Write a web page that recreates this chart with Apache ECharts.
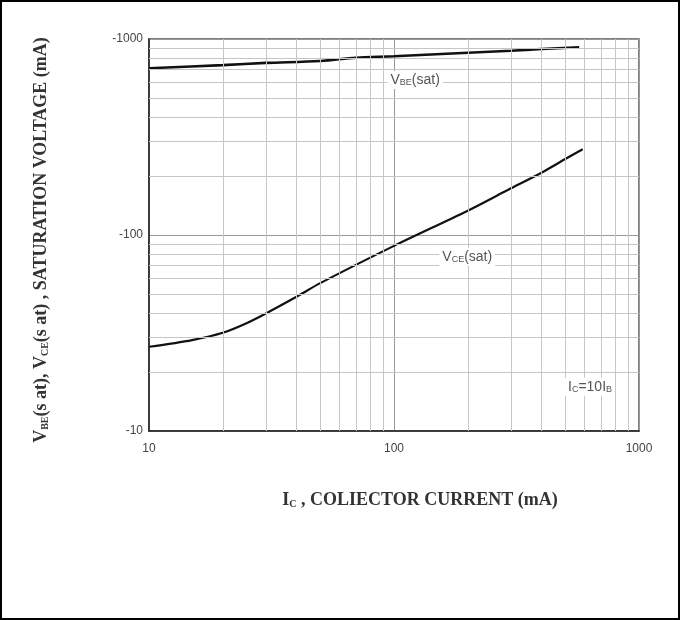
<!DOCTYPE html>
<html>
<head>
<meta charset="utf-8">
<script src="https://cdn.jsdelivr.net/npm/echarts@6/dist/echarts.min.js"></script>
<style>
  html, body { margin: 0; padding: 0; background: #fff; }
  #chart { width: 680px; height: 620px; box-sizing: border-box; border: 2px solid #000; }
</style>
</head>
<body>
<div id="chart"></div>
<script>
// axis ticks (log decades) and the minor grid values
const xTicks = [10, 100, 1000];
const yTicks = [-10, -100, -1000];
const minorTicks = [20, 30, 40, 50, 60, 70, 80, 90, 200, 300, 400, 500, 600, 700, 800, 900];

// V_BE(sat) curve
const icVbe = [10, 20, 30, 50, 70, 100, 200, 300, 400, 570];
const vbeSat = [-709, -736, -755, -772, -803, -816, -851, -871, -889, -907];

// V_CE(sat) curve
const icVce = [10, 15, 20, 25, 30, 40, 50, 100, 200, 300, 400, 500, 589];
const vceSat = [-26.9, -29.1, -31.7, -35.5, -39.8, -48.4, -56.8, -88, -133, -173, -208, -244, -274];

// plotted on log axes by magnitude, labelled negative
const toPoints = (xs, ys) => xs.map((x, i) => [x, Math.abs(ys[i])]);

const chart = echarts.init(document.getElementById("chart"));

const gridLine = { color: "#c6c6c6", width: 1, type: "solid" };
const noteStyle = {
  t: { fontFamily: "Liberation Sans, Arial", fontSize: 14, color: "#555" },
  s: { fontFamily: "Liberation Sans, Arial", fontSize: 9, color: "#555", verticalAlign: "bottom", padding: [5, 0, 0, 0] },
};
const titleRich = {
  b: { fontFamily: "Liberation Serif, Times New Roman", fontWeight: "bold", fontSize: 18, color: "#333" },
  s: { fontFamily: "Liberation Serif, Times New Roman", fontWeight: "bold", fontSize: 10, color: "#333", verticalAlign: "bottom", padding: [6, 0, 0, 0] },
};

chart.setOption({
  animation: false,
  grid: {
    left: 147,
    right: 39,
    top: 37,
    bottom: 187,
    containLabel: false,
    outerBoundsMode: "none",
    show: true,
    borderColor: "#555",
    borderWidth: 1.5,
  },
  xAxis: {
    type: "log",
    logBase: 10,
    min: xTicks[0],
    max: xTicks[xTicks.length - 1],
    axisLine: { show: true, lineStyle: { color: "#222", width: 1.5 } },
    axisTick: { show: false },
    axisLabel: {
      margin: 12,
      fontFamily: "Liberation Sans, Arial",
      fontSize: 12,
      color: "#444",
      formatter: (v) => String(v),
    },
    splitLine: { show: true, lineStyle: { color: "#999", width: 1 } },
    name: "{b|I}{s|C}{b| , COLIECTOR CURRENT (mA)}",
    nameLocation: "middle",
    nameGap: 60,
    nameTextStyle: {
      padding: [0, 0, 0, 52],
      rich: titleRich,
    },
  },
  yAxis: {
    type: "log",
    logBase: 10,
    min: Math.abs(yTicks[0]),
    max: Math.abs(yTicks[yTicks.length - 1]),
    axisLine: { show: true, lineStyle: { color: "#222", width: 1.5 } },
    axisTick: { show: false },
    axisLabel: {
      margin: 6,
      fontFamily: "Liberation Sans, Arial",
      fontSize: 12,
      color: "#444",
      formatter: (v) => "-" + v,
    },
    splitLine: { show: true, lineStyle: { color: "#999", width: 1 } },
    name: "{b|V}{s|BE}{b|(s at), V}{s|CE}{b|(s at) , SATURATION VOLTAGE (mA)}",
    nameLocation: "middle",
    nameRotate: 90,
    nameGap: 99,
    nameTextStyle: {
      padding: [0, 10, 0, 0],
      rich: titleRich,
    },
  },
  series: [
    {
      // minor grid drawn as mark lines on the log scales
      type: "line",
      data: [],
      silent: true,
      markLine: {
        silent: true,
        symbol: "none",
        label: { show: false },
        lineStyle: gridLine,
        data: minorTicks.map((v) => ({ xAxis: v })).concat(minorTicks.map((v) => ({ yAxis: v }))),
      },
    },
    {
      name: "VBE(sat)",
      type: "line",
      data: toPoints(icVbe, vbeSat),
      smooth: 0.3,
      showSymbol: false,
      lineStyle: { color: "#111", width: 2.6 },
      markPoint: {
        symbol: "circle",
        symbolSize: 0,
        label: {
          show: true,
          formatter: "{t|V}{s|BE}{t|(sat)}",
          backgroundColor: "#fff",
          padding: [2, 3],
          rich: noteStyle,
        },
        data: [{ coord: [122, 618] }],
      },
    },
    {
      name: "VCE(sat)",
      type: "line",
      data: toPoints(icVce, vceSat),
      smooth: 0.3,
      showSymbol: false,
      lineStyle: { color: "#111", width: 2.2 },
      markPoint: {
        symbol: "circle",
        symbolSize: 0,
        label: {
          show: true,
          backgroundColor: "#fff",
          padding: [2, 3],
          rich: noteStyle,
        },
        data: [
          { coord: [199, 77.3], label: { formatter: "{t|V}{s|CE}{t|(sat)}" } },
          { coord: [631, 16.8], label: { formatter: "{t|I}{s|C}{t|=10I}{s|B}" } },
        ],
      },
    },
  ],
});
</script>
</body>
</html>
